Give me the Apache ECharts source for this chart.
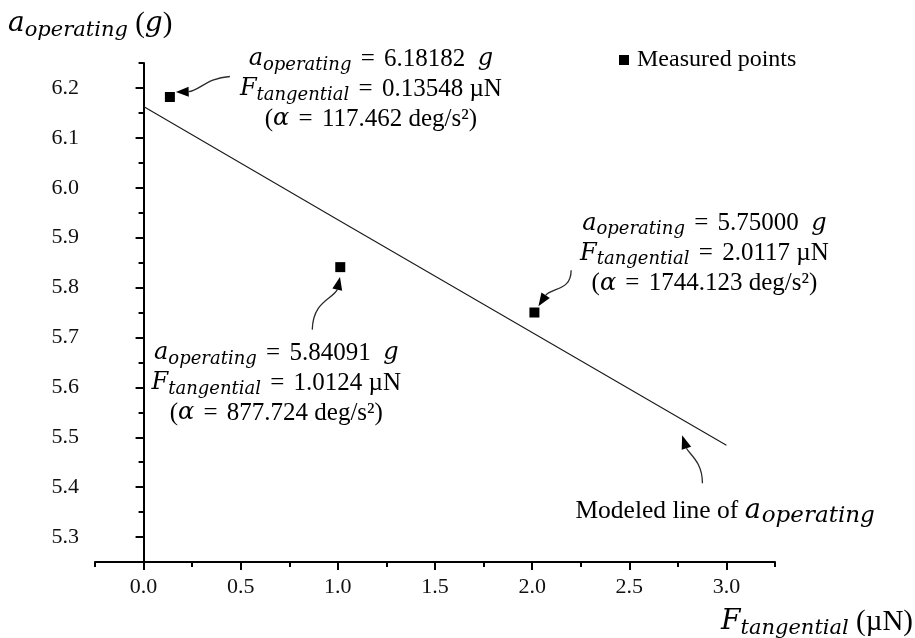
<!DOCTYPE html>
<html>
<head>
<meta charset="utf-8">
<script src="https://cdn.jsdelivr.net/npm/echarts@6/dist/echarts.min.js"></script>
<style>
  html, body { margin: 0; padding: 0; background: #fff; }
  #chart { width: 915px; height: 638px; }
</style>
</head>
<body>
<div id="chart"></div>
<script>
// Measured operating points
const forceTangential = [0.13548, 1.0124, 2.0117];      // µN
const accelOperating  = [6.18182, 5.84091, 5.75000];    // g
const angularAccel    = [117.462, 877.724, 1744.123];   // deg/s^2

// Modeled line of a_operating
const modelForce = [0.0, 1.0, 2.0, 3.0];
const modelAccel = [6.163, 5.936, 5.710, 5.484];

// Axis ticks
const xMajorTicks = [0.0, 0.5, 1.0, 1.5, 2.0, 2.5, 3.0];
const xMinorTicks = [-0.25, 0.25, 0.75, 1.25, 1.75, 2.25, 2.75, 3.25];
const yMajorTicks = [5.3, 5.4, 5.5, 5.6, 5.7, 5.8, 5.9, 6.0, 6.1, 6.2];
const yMinorTicks = [5.25, 5.35, 5.45, 5.55, 5.65, 5.75, 5.85, 5.95, 6.05, 6.15, 6.25];

const SERIF = "'Liberation Serif', 'Times New Roman', serif";
const MATH = "'DejaVu Serif', serif";

const chart = echarts.init(document.getElementById('chart'), null, { renderer: 'canvas' });

const axisLineStyle = { color: '#000', width: 2 };
const baseX = { type: 'value', min: -0.25, max: 3.25, position: 'bottom', gridIndex: 0, splitLine: { show: false } };
const baseY = { type: 'value', min: 5.25, max: 6.25, position: 'left', gridIndex: 0, splitLine: { show: false } };

chart.setOption({
  animation: false,
  backgroundColor: '#fff',
  grid: { left: 95, right: 140, top: 63, bottom: 76, outerBoundsMode: 'none' },
  legend: {
    data: ['Measured points'],
    left: 614, top: 43,
    icon: 'rect', itemWidth: 10, itemHeight: 10, itemStyle: { opacity: 1 },
    textStyle: { fontFamily: SERIF, fontSize: 24, color: '#000', padding: [0, 0, 0, 3] }
  },
  xAxis: [
    Object.assign({}, baseX, {
      axisLine: { show: true, lineStyle: axisLineStyle },
      axisTick: { show: true, length: 8, lineStyle: { color: '#000', width: 2 }, customValues: xMajorTicks },
      axisLabel: { show: true, customValues: xMajorTicks, margin: 14, fontFamily: SERIF, fontSize: 22, color: '#111',
        formatter: v => v.toFixed(1) }
    }),
    Object.assign({}, baseX, {
      axisLine: { show: false },
      axisTick: { show: true, length: 5, lineStyle: { color: '#000', width: 2 }, customValues: xMinorTicks },
      axisLabel: { show: false }
    })
  ],
  yAxis: [
    Object.assign({}, baseY, {
      axisLine: { show: true, lineStyle: axisLineStyle },
      axisTick: { show: true, length: 8, lineStyle: { color: '#000', width: 2 }, customValues: yMajorTicks },
      axisLabel: { show: true, customValues: yMajorTicks, margin: 16, fontFamily: SERIF, fontSize: 22, color: '#111',
        formatter: v => v.toFixed(1) }
    }),
    Object.assign({}, baseY, {
      axisLine: { show: false },
      axisTick: { show: true, length: 5, lineStyle: { color: '#000', width: 2 }, customValues: yMinorTicks },
      axisLabel: { show: false }
    })
  ],
  series: [
    {
      name: 'Modeled line',
      type: 'line',
      xAxisIndex: 0, yAxisIndex: 0,
      data: modelForce.map((f, i) => [f, modelAccel[i]]),
      showSymbol: false,
      lineStyle: { color: '#1a1a1a', width: 1.1 },
      silent: true
    },
    {
      name: 'Measured points',
      type: 'scatter',
      xAxisIndex: 0, yAxisIndex: 0,
      data: forceTangential.map((f, i) => [f, accelOperating[i]]),
      symbol: 'rect',
      symbolSize: 10,
      itemStyle: { color: '#000', opacity: 1 },
      z: 5
    }
  ]
});

// Rich text styles: math italic (a, F, g, α), subscripts, serif body text
const richAnno = {
  m: { fontFamily: MATH, fontStyle: 'italic', fontSize: 24, lineHeight: 30, color: '#000' },
  s: { fontFamily: MATH, fontStyle: 'italic', fontSize: 18, lineHeight: 18, verticalAlign: 'bottom', color: '#000' },
  t: { fontFamily: SERIF, fontSize: 25, lineHeight: 30, color: '#000' },
  e: { fontFamily: SERIF, fontSize: 25, lineHeight: 30, color: '#000', padding: [0, 3, 0, 3] }
};
const richModel = {
  m: { fontFamily: MATH, fontStyle: 'italic', fontSize: 27, lineHeight: 32, color: '#000' },
  s: { fontFamily: MATH, fontStyle: 'italic', fontSize: 23, lineHeight: 24, verticalAlign: 'bottom', color: '#000', padding: [0, 0, 0, 1] },
  t: { fontFamily: SERIF, fontSize: 25.5, lineHeight: 32, color: '#000' }
};
const richTitle = {
  m: { fontFamily: MATH, fontStyle: 'italic', fontSize: 28, lineHeight: 34, color: '#000' },
  s: { fontFamily: MATH, fontStyle: 'italic', fontSize: 21, lineHeight: 21, verticalAlign: 'bottom', color: '#000' },
  t: { fontFamily: SERIF, fontSize: 29, lineHeight: 34, color: '#000' }
};

function annoText(i) {
  return [
    '{m|a}{s|operating}{e| = }{t|' + accelOperating[i].toFixed(5) + '  }{m|g}',
    '{m|F}{s|tangential}{e| = }{t|' + String(forceTangential[i]) + ' µN}',
    '{t|(}{m|α}{e| = }{t|' + angularAccel[i].toFixed(3) + ' deg/s²)}'
  ].join('\n');
}

function add(p, d) { return [p[0] + d[0], p[1] + d[1]]; }

// Curved pointer: bezier from head base to tail, filled head from base to tip
function pointer(p, tip, base, c1, c2, tail) {
  const T = add(p, tip), B = add(p, base), C1 = add(p, c1), C2 = add(p, c2), E = add(p, tail);
  const dx = T[0] - B[0], dy = T[1] - B[1];
  const len = Math.hypot(dx, dy);
  const nx = -dy / len, ny = dx / len, hw = 5;
  return [
    {
      type: 'bezierCurve',
      shape: { x1: B[0], y1: B[1], cpx1: C1[0], cpy1: C1[1], cpx2: C2[0], cpy2: C2[1], x2: E[0], y2: E[1] },
      style: { stroke: '#2a2a2a', lineWidth: 1.3, fill: null },
      silent: true
    },
    {
      type: 'polygon',
      shape: { points: [T, [B[0] + nx * hw, B[1] + ny * hw], [B[0] - nx * hw, B[1] - ny * hw]] },
      style: { fill: '#000' },
      silent: true
    }
  ];
}

const px = forceTangential.map((f, i) => chart.convertToPixel({ gridIndex: 0 }, [f, accelOperating[i]]));
const lineEnd = chart.convertToPixel({ gridIndex: 0 }, [modelForce[modelForce.length - 1], modelAccel[modelAccel.length - 1]]);

// Text block centres relative to each measured point (pixels)
const annoOffsets = [[201, -8], [-64, 116], [170, -59]];

const graphics = [];
px.forEach((p, i) => {
  const o = add(p, annoOffsets[i]);
  graphics.push({
    type: 'text', x: o[0], y: o[1], silent: true,
    style: { text: annoText(i), rich: richAnno, align: 'center', verticalAlign: 'middle' }
  });
});

graphics.push(...pointer(px[0], [6, -5], [18.8, -5.3], [29.3, -6.3], [37.3, -19.3], [60, -20.5]));
graphics.push(...pointer(px[1], [-0.3, 9.8], [-3, 22.5], [-8.3, 32.5], [-27.3, 34.5], [-28, 62.5]));
graphics.push(...pointer(px[2], [4, -6.3], [11.2, -17.3], [19.7, -25.3], [36.7, -22.3], [36.7, -42.3]));
graphics.push(...pointer(lineEnd, [-44.3, -10], [-40, 3], [-36, 10], [-24, 17], [-24, 38]));

// Label of the modeled line
graphics.push({
  type: 'text', x: lineEnd[0] - 151, y: lineEnd[1] + 66, silent: true,
  style: { text: '{t|Modeled line of }{m|a}{s|operating}', rich: richModel, align: 'left', verticalAlign: 'middle' }
});

// Axis titles
graphics.push({
  type: 'text', x: 8, y: 24, silent: true,
  style: { text: '{m|a}{s|operating}{t| (}{m|g}{t|)}', rich: richTitle, align: 'left', verticalAlign: 'middle' }
});
graphics.push({
  type: 'text', x: 913, y: 622, silent: true,
  style: { text: '{m|F}{s|tangential}{t| (µN)}', rich: richTitle, align: 'right', verticalAlign: 'middle' }
});

chart.setOption({ graphic: graphics });
</script>
</body>
</html>
